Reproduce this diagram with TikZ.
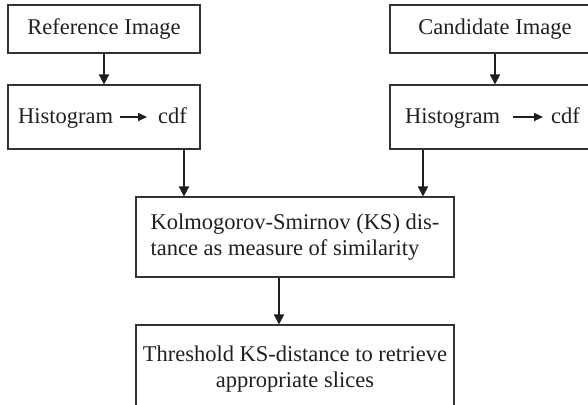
\documentclass[tikz,border=0pt]{standalone}
\usepackage{fontspec}
\setmainfont{Liberation Serif}
\usetikzlibrary{arrows.meta}
\begin{document}
\begin{tikzpicture}[x=1pt,y=-1pt,
  every node/.style={font=\fontsize{22.5}{26.5}\selectfont, text=black!88},
  box/.style={draw=black!80, line width=1.1pt, inner sep=0pt},
  word/.style={inner sep=0pt, anchor=base west},
  arr/.style={draw=black!88, line width=1.8pt, -{Triangle[length=10pt,width=10pt]}},
  tarr/.style={draw=black!88, line width=2pt, -{Triangle[length=9pt,width=8pt]}}]
  \useasboundingbox (0,0) rectangle (588,404);
  \clip (0,0) rectangle (588,404);

  % input images
  \node[box, minimum width=192, minimum height=48] (ref) at (104,29) {Reference Image};
  \node[box, minimum width=210, minimum height=48] (cand) at (495,29) {Candidate Image};

  % histogram -> cdf boxes
  \node[box, minimum width=192, minimum height=64] (hl) at (104,117) {};
  \node[box, minimum width=210, minimum height=64] (hr) at (495,117) {};
  \node[word] (hl1) at (18,123) {Histogram};
  \node[word] (hl2) at (158,123) {cdf};
  \node[word] (hr1) at (405,123) {Histogram};
  \node[word] (hr2) at (551,123) {cdf};
  \draw[tarr] ([shift={(7,-6)}]hl1.base east) -- ([shift={(-11,-6)}]hl2.base west);
  \draw[tarr] ([shift={(13,-6)}]hr1.base east) -- ([shift={(-8,-6)}]hr2.base west);

  % comparison and thresholding
  \node[box, minimum width=318, minimum height=80, align=left] (ks) at (295,237)
    {Kolmogorov-Smirnov (KS) dis-\\tance as measure of similarity};
  \node[box, minimum width=318, minimum height=88, align=center] (th) at (295,369)
    {Threshold KS-distance to retrieve\\appropriate slices};

  % connectors
  \draw[arr] (ref) -- (hl);
  \draw[arr] (cand) -- (hr);
  \draw[arr] ([xshift=80]hl.south) -- ([xshift=80]hl.south |- ks.north);
  \draw[arr] ([xshift=-72]hr.south) -- ([xshift=-72]hr.south |- ks.north);
  \draw[arr] ([xshift=-16]ks.south) -- ([xshift=-16]ks.south |- th.north);
\end{tikzpicture}
\end{document}
